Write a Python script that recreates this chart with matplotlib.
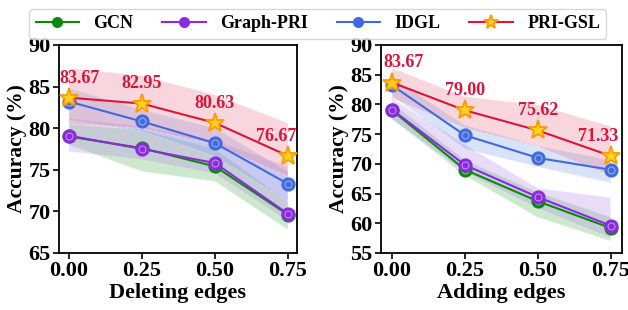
import matplotlib
matplotlib.use("Agg")
import matplotlib.pyplot as plt
import numpy as np

plt.rcParams['font.family'] = ['Liberation Serif', 'DejaVu Serif']
plt.rcParams['font.weight'] = 'bold'

x = [0.00, 0.25, 0.50, 0.75]
xticklabels = ["0.00", "0.25", "0.50", "0.75"]
methods = ["GCN", "Graph-PRI", "IDGL", "PRI-GSL"]

# Deleting edges
del_gcn = [79.0, 77.6, 75.4, 69.6]
del_gcn_up = [80.5, 79.8, 77.5, 71.2]
del_gcn_lo = [78.0, 74.8, 73.6, 67.8]
del_pri = [79.1, 77.5, 75.8, 69.7]
del_pri_up = [81.2, 80.2, 78.5, 75.4]
del_pri_lo = [77.2, 76.2, 74.5, 68.8]
del_idgl = [83.2, 80.8, 78.2, 73.3]
del_idgl_up = [84.8, 82.2, 80.0, 74.8]
del_idgl_lo = [81.0, 79.6, 76.6, 71.2]
del_gsl = [83.67, 82.95, 80.63, 76.67]
del_gsl_up = [87.2, 86.3, 84.0, 80.6]
del_gsl_lo = [80.5, 80.0, 78.0, 74.2]

# Adding edges
add_gcn = [79.0, 69.0, 63.7, 59.2]
add_gcn_up = [80.2, 70.6, 65.2, 61.0]
add_gcn_lo = [77.5, 68.0, 61.0, 57.0]
add_pri = [79.1, 69.8, 64.4, 59.6]
add_pri_up = [81.0, 73.2, 65.9, 64.3]
add_pri_lo = [77.5, 68.5, 62.5, 57.5]
add_idgl = [83.2, 74.8, 71.0, 69.0]
add_idgl_up = [84.5, 76.5, 73.0, 70.6]
add_idgl_lo = [81.5, 72.5, 69.5, 66.8]
add_gsl = [83.67, 79.00, 75.62, 71.33]
add_gsl_up = [86.1, 81.3, 79.9, 76.3]
add_gsl_lo = [81.0, 76.0, 72.9, 68.0]

colors = {"GCN": "#0a8a0a", "Graph-PRI": "#8a2be2", "IDGL": "#4169e1", "PRI-GSL": "#dc143c"}
fills = {"GCN": "#5cb85c", "Graph-PRI": "#b48be8", "IDGL": "#7f9fe8", "PRI-GSL": "#e8798f"}

fig = plt.figure(figsize=(6.28, 3.10), dpi=100)
ax1 = fig.add_axes([0.0935, 0.184, 0.3795, 0.671])
ax2 = fig.add_axes([0.6067, 0.184, 0.3838, 0.671])

def draw(ax, data, ylim, yticks, xlabel, xlim, labels):
    handles = []
    for name in methods:
        m, up, lo = data[name]
        ax.fill_between(x, lo, up, color=fills[name], alpha=0.3, edgecolor='white',
                        linestyle='--', linewidth=0.8, zorder=1)
    for name in methods:
        m, up, lo = data[name]
        c = colors[name]
        if name == "PRI-GSL":
            h, = ax.plot(x, m, color=c, lw=1.5, marker='*', markersize=14,
                         markerfacecolor='#ffd21f', markeredgecolor='#ff9900',
                         markeredgewidth=1.3, label=name, zorder=5)
        else:
            h, = ax.plot(x, m, color=c, lw=1.5, marker='o', markersize=9,
                         markerfacecolor=c, markeredgecolor=c, markeredgewidth=1.2,
                         label=name, zorder=4)
            ax.plot(x, m, linestyle='none', marker='o', markersize=5,
                    markerfacecolor='none', markeredgecolor='white',
                    markeredgewidth=0.6, alpha=0.6, zorder=4)
        handles.append(h)
    offs = [11, 0, 0, -12]
    for i, v in enumerate(labels):
        ax.annotate(f"{v:.2f}", (x[i], v), xytext=(offs[i] * 0.72, 8),
                    textcoords='offset points', ha='center', va='bottom',
                    color='#dc143c', fontsize=13, fontweight='bold', zorder=6)
    ax.set_ylim(*ylim)
    ax.set_yticks(yticks)
    ax.set_xlim(*xlim)
    ax.set_xticks(x)
    ax.set_xticklabels(xticklabels)
    ax.tick_params(labelsize=16, width=1.2, length=4, pad=2)
    ax.set_xlabel(xlabel, fontsize=16, fontweight='bold', labelpad=1)
    ax.set_ylabel("Accuracy (%)", fontsize=15.5, fontweight='bold', labelpad=1)
    for s in ax.spines.values():
        s.set_linewidth(1.3)
    return handles

d1 = {"GCN": (del_gcn, del_gcn_up, del_gcn_lo), "Graph-PRI": (del_pri, del_pri_up, del_pri_lo),
      "IDGL": (del_idgl, del_idgl_up, del_idgl_lo), "PRI-GSL": (del_gsl, del_gsl_up, del_gsl_lo)}
d2 = {"GCN": (add_gcn, add_gcn_up, add_gcn_lo), "Graph-PRI": (add_pri, add_pri_up, add_pri_lo),
      "IDGL": (add_idgl, add_idgl_up, add_idgl_lo), "PRI-GSL": (add_gsl, add_gsl_up, add_gsl_lo)}

h = draw(ax1, d1, (65, 90), [65, 70, 75, 80, 85, 90], "Deleting edges", (-0.035, 0.781), del_gsl)
draw(ax2, d2, (55, 90), [55, 60, 65, 70, 75, 80, 85, 90], "Adding edges", (-0.038, 0.789), add_gsl)

fig.legend(handles=h, labels=methods, loc='upper center', bbox_to_anchor=(0.506, 1.0),
           ncol=4, frameon=True, fancybox=True, handlelength=2.4, markerscale=0.75,
           columnspacing=1.6, borderpad=0.35, prop={'weight': 'bold', 'size': 13})

fig.savefig("out.png", dpi=100)
